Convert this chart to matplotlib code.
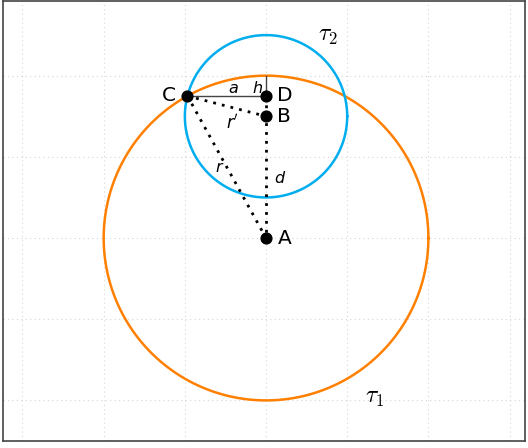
import numpy as np
import matplotlib.pyplot as plt

# geometry (data units)
R1 = 2.0            # radius of tau1, centred on A
A = (0.0, 0.0)
B = (0.0, 1.5)
D = (0.0, 1.75)
C = (-np.sqrt(R1**2 - D[1]**2), 1.75)
R2 = np.hypot(C[0] - B[0], C[1] - B[1])

point_names = ['A', 'B', 'C', 'D']
points = [A, B, C, D]

fig = plt.figure(figsize=(5.28, 4.48), dpi=100)
ax = fig.add_axes([3/528, 7/448, 522/528, 440/448])

t = np.linspace(0, 2*np.pi, 400)
ax.plot(A[0] + R1*np.cos(t), A[1] + R1*np.sin(t), color='#ff8000', lw=1.8)
ax.plot(B[0] + R2*np.cos(t), B[1] + R2*np.sin(t), color='#00aeef', lw=1.8)

# solid segments a and h
ax.plot([C[0], D[0]], [C[1], D[1]], color='#444444', lw=1)
ax.plot([D[0], D[0]], [D[1], R1], color='#444444', lw=1)

# dotted segments r', r, d
dot = dict(color='black', lw=2, linestyle=(0, (1, 2.2)))
ax.plot([C[0], B[0]], [C[1], B[1]], **dot)
ax.plot([C[0], A[0]], [C[1], A[1]], **dot)
ax.plot([D[0], A[0]], [D[1], A[1]], **dot)

xs = [p[0] for p in points]
ys = [p[1] for p in points]
ax.scatter(xs, ys, s=60, color='black', zorder=5)

fs = 14.5
for name, p in zip(point_names, points):
    if name == 'C':
        ax.text(p[0] - 0.14, p[1], name, fontsize=fs, va='center', ha='right')
    else:
        ax.text(p[0] + 0.14, p[1], name, fontsize=fs, va='center', ha='left')

ax.text(-0.4, 1.84, '$a$', fontsize=11.5, ha='center', va='center')
ax.text(-0.11, 1.85, '$h$', fontsize=11.5, ha='center', va='center')
ax.text(-0.42, 1.42, "$r'$", fontsize=12, ha='center', va='center')
ax.text(-0.57, 0.87, '$r$', fontsize=11.5, ha='center', va='center')
ax.text(0.17, 0.74, '$d$', fontsize=11.5, ha='center', va='center')

cm = dict(math_fontfamily='cm', fontsize=17, ha='center', va='center')
ax.text(0.76, 2.5, r'$\tau_2$', **cm)
ax.text(1.34, -1.96, r'$\tau_1$', **cm)

ax.set_xlim(-3.24, 3.19)
ax.set_ylim(-2.5, 2.92)
ax.set_aspect('equal')
ax.set_xticks(np.arange(-3, 4))
ax.set_yticks(np.arange(-2, 3))
ax.tick_params(length=0, labelbottom=False, labelleft=False)
ax.grid(True, color='#d6d6d6', lw=0.8, linestyle=(0, (1, 3)))
ax.set_axisbelow(True)
for s in ax.spines.values():
    s.set_color('#444444')
    s.set_linewidth(1.2)

fig.savefig('out.png', dpi=100)
